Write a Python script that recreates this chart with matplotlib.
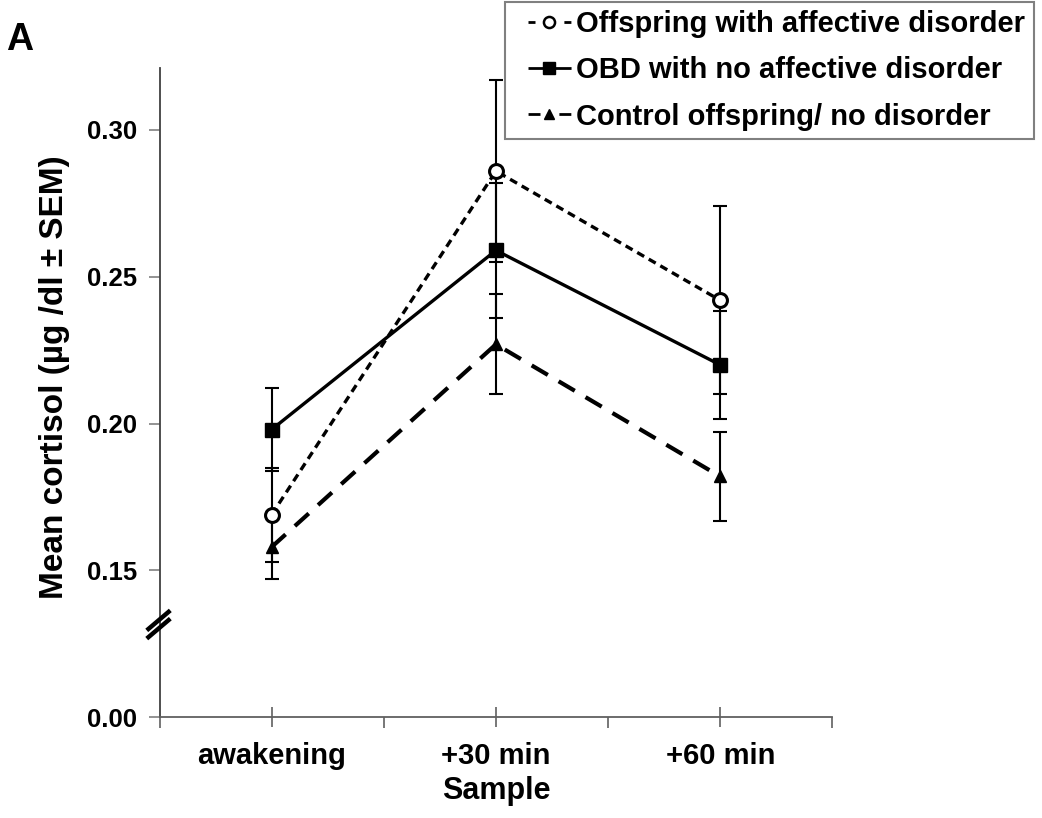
#!/usr/bin/env python3
# -*- coding: utf-8 -*-
import matplotlib
matplotlib.use("Agg")
import matplotlib.pyplot as plt
from matplotlib.lines import Line2D

plt.rcParams['font.family'] = ['Liberation Sans', 'DejaVu Sans']
plt.rcParams['font.weight'] = 'bold'

# cortisol samples
samples = ["awakening", "+30 min", "+60 min"]
groups = ["Offspring with affective disorder",
          "OBD with no affective disorder",
          "Control offspring/ no disorder"]
affective_mean = [0.169, 0.286, 0.242]
affective_sem = [0.016, 0.031, 0.032]
obd_mean = [0.198, 0.259, 0.220]
obd_sem = [0.014, 0.023, 0.0185]
control_mean = [0.158, 0.227, 0.182]
control_sem = [0.011, 0.017, 0.015]

# y axis is broken: the bottom tick stands for zero
y_ticks = [0.10, 0.15, 0.20, 0.25, 0.30]
y_ticklabels = ["0.00", "0.15", "0.20", "0.25", "0.30"]

fig = plt.figure(figsize=(10.42, 8.18), dpi=100)
ax = fig.add_axes([0.1531, 0.1231, 0.6457, 0.7934])
x = [1, 2, 3]

styles = [
    (affective_mean, affective_sem, dict(ls=(0, (2.4, 1.6)), lw=2.4, marker='o', ms=10,
                                         mfc='white', mec='black', mew=2.2)),
    (obd_mean, obd_sem, dict(ls='-', lw=2.4, marker='s', ms=10, mfc='black', mec='black')),
    (control_mean, control_sem, dict(ls=(0, (4.5, 3.0)), lw=3.0, marker='^', ms=9,
                                     mfc='black', mec='black')),
]
# legend keys: blank margin on the left, then short dash / marker / short dash
handle_ls = [(20.14, (2.52, 10.4, 2.52, 9.74)),
             (20.16, (15.5, 9.7)),
             (20.14, (4.3, 6.8, 4.3, 9.8))]
handle_ms = [8, 9, 7.5]

handles = []
for (mean, sem, st), hls, hms in zip(styles, handle_ls, handle_ms):
    ax.errorbar(x, mean, yerr=sem, fmt='none', ecolor='black', elinewidth=1.5,
                capsize=5, capthick=1.5, zorder=2)
    ax.plot(x, mean, color='black', zorder=3, **st)
    hst = dict(st)
    hst.update(ms=hms, lw=2.0, ls=hls)
    if 'mew' in hst:
        hst['mew'] = 1.8
    handles.append(Line2D([], [], color='black', **hst))

ax.set_xlim(0.5, 3.5)
ax.set_ylim(0.10, 0.321)
ax.set_xticks(x)
ax.set_xticklabels(samples, fontsize=21, fontweight='bold')
ax.set_xticks([0.5, 1.5, 2.5, 3.5], minor=True)
ax.tick_params(axis='x', which='major', direction='inout', length=14, width=1.2,
               color='#606060', pad=11)
ax.tick_params(axis='x', which='minor', direction='out', length=8, width=1.2, color='#606060')
ax.set_yticks(y_ticks)
ax.set_yticklabels(y_ticklabels, fontsize=18.5, fontweight='bold')
ax.tick_params(axis='y', direction='out', length=8, width=1.2, color='#808080', pad=8)

for s in ['top', 'right']:
    ax.spines[s].set_visible(False)
ax.spines['left'].set_color('#404040')
ax.spines['bottom'].set_color('#606060')
ax.spines['left'].set_linewidth(1.3)
ax.spines['bottom'].set_linewidth(1.3)

ax.set_xlabel("Sample", fontsize=22, fontweight='bold', labelpad=4)
ax.set_ylabel("Mean cortisol (µg /dl ± SEM)", fontsize=24, fontweight='bold')
ax.yaxis.set_label_coords(-0.133, 0.524)

# axis break marks
tr = ax.get_yaxis_transform()
for dy in (0.0, 0.0028):
    ax.plot([-0.019, 0.016], [0.1296 - dy, 0.1364 - dy], transform=tr, color='black',
            lw=3.2, clip_on=False, solid_capstyle='butt', zorder=5)

fig.text(0.006, 0.973, "A", fontsize=27, fontweight='bold', ha='left', va='top')

leg = fig.legend(handles, groups, loc='upper right', bbox_to_anchor=(0.992, 0.998),
                 bbox_transform=fig.transFigure, fancybox=False, framealpha=1,
                 edgecolor='#808080', fontsize=21, handlelength=2.4, handletextpad=-0.27,
                 labelspacing=0.62, borderpad=0.3, borderaxespad=0)
leg.get_frame().set_linewidth(1.5)
for t in leg.get_texts():
    t.set_fontweight('bold')

fig.savefig("out.png", dpi=100)
